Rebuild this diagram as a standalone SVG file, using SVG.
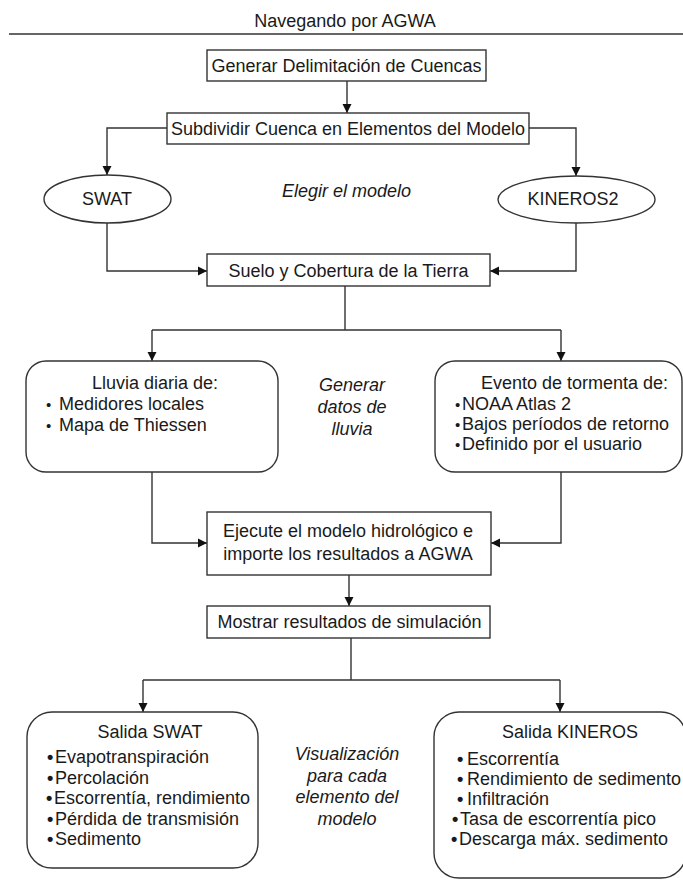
<svg xmlns="http://www.w3.org/2000/svg" width="683" height="880" viewBox="0 0 683 880">
<style>
text{font-family:"Liberation Sans",Arial,sans-serif;font-size:18px;fill:#1a1a1a}
.c{text-anchor:middle}
.i{font-style:italic}
.box{fill:#fff;stroke:#333;stroke-width:1.4}
.ln{fill:none;stroke:#333;stroke-width:1.4}
.sb{font-size:15px}
.bb{font-weight:bold}
</style>
<defs>
<marker id="ah" markerUnits="userSpaceOnUse" markerWidth="10" markerHeight="11" refX="9" refY="5.5" orient="auto">
<path d="M0,1 L9,5.5 L0,10 z" fill="#111"/>
</marker>
</defs>
<rect width="683" height="880" fill="#fff"/>
<text class="c" x="345" y="27">Navegando por AGWA</text>
<line x1="9" y1="34" x2="683" y2="34" stroke="#333" stroke-width="1.4"/>

<g id="connectors">
<path class="ln" d="M347,81 V113" marker-end="url(#ah)"/>
<path class="ln" d="M167,128 H107 V175" marker-end="url(#ah)"/>
<path class="ln" d="M529,128 H576 V176" marker-end="url(#ah)"/>
<path class="ln" d="M107,223 V271 H207" marker-end="url(#ah)"/>
<path class="ln" d="M576,223 V271 H490" marker-end="url(#ah)"/>
<path class="ln" d="M345,286 V330 M152,330 H561"/>
<path class="ln" d="M152,330 V361" marker-end="url(#ah)"/>
<path class="ln" d="M561,330 V361" marker-end="url(#ah)"/>
<path class="ln" d="M152,472 V543 H207" marker-end="url(#ah)"/>
<path class="ln" d="M561,472 V543 H491" marker-end="url(#ah)"/>
<path class="ln" d="M349,575 V606" marker-end="url(#ah)"/>
<path class="ln" d="M351,638 V680 M143,680 H560"/>
<path class="ln" d="M143,680 V712" marker-end="url(#ah)"/>
<path class="ln" d="M560,680 V712" marker-end="url(#ah)"/>
</g>

<g id="n-delimitacion">
<rect class="box" x="207" y="50" width="279" height="31"/>
<text class="c" x="346.5" y="72">Generar Delimitación de Cuencas</text>
</g>
<g id="n-subdividir">
<rect class="box" x="167" y="113" width="362" height="31"/>
<text class="c" x="348" y="135">Subdividir Cuenca en Elementos del Modelo</text>
</g>
<g id="n-swat">
<ellipse class="box" cx="107.5" cy="199" rx="63.5" ry="24"/>
<text class="c" x="107" y="205">SWAT</text>
</g>
<g id="n-kineros2">
<ellipse class="box" cx="576.5" cy="199.5" rx="78.5" ry="23.5"/>
<text class="c" x="573" y="205">KINEROS2</text>
</g>
<g id="n-elegir">
<text class="c i" x="346.5" y="197">Elegir el modelo</text>
</g>
<g id="n-suelo">
<rect class="box" x="207" y="254" width="283" height="32"/>
<text class="c" x="348.5" y="277">Suelo y Cobertura de la Tierra</text>
</g>
<g id="n-lluvia-diaria">
<rect class="box" x="26" y="361" width="252" height="111" rx="20"/>
<text class="c" x="155" y="389">Lluvia diaria de:</text>
<text y="410"><tspan class="sb" x="46">•</tspan><tspan x="59">Medidores locales</tspan></text>
<text y="431"><tspan class="sb" x="46">•</tspan><tspan x="59">Mapa de Thiessen</tspan></text>
</g>
<g id="n-generar-lluvia">
<text class="c i" x="352" y="391">Generar</text>
<text class="c i" x="352" y="413">datos de</text>
<text class="c i" x="352" y="435">lluvia</text>
</g>
<g id="n-tormenta">
<rect class="box" x="435" y="361" width="247" height="111" rx="20"/>
<text class="c" x="574.5" y="389">Evento de tormenta de:</text>
<text y="410"><tspan class="sb" x="455">•</tspan><tspan x="462">NOAA Atlas 2</tspan></text>
<text y="430"><tspan class="sb" x="455">•</tspan><tspan x="462">Bajos períodos de retorno</tspan></text>
<text y="450"><tspan class="sb" x="455">•</tspan><tspan x="462">Definido por el usuario</tspan></text>
</g>
<g id="n-ejecute">
<rect class="box" x="207" y="512" width="284" height="63"/>
<text class="c" x="348" y="537">Ejecute el modelo hidrológico e</text>
<text class="c" x="348" y="560">importe los resultados a AGWA</text>
</g>
<g id="n-mostrar">
<rect class="box" x="207" y="606" width="283" height="32"/>
<text class="c" x="349.5" y="628">Mostrar resultados de simulación</text>
</g>
<g id="n-salida-swat">
<rect class="box" x="27" y="712" width="231" height="156" rx="25"/>
<text class="c" x="150" y="738">Salida SWAT</text>
<text y="763"><tspan class="bb" x="47">•</tspan><tspan x="55">Evapotranspiración</tspan></text>
<text y="784"><tspan class="bb" x="47">•</tspan><tspan x="55">Percolación</tspan></text>
<text y="804"><tspan class="bb" x="46">•</tspan><tspan x="54">Escorrentía, rendimiento</tspan></text>
<text y="825"><tspan class="bb" x="47">•</tspan><tspan x="55">Pérdida de transmisión</tspan></text>
<text y="845"><tspan class="bb" x="47">•</tspan><tspan x="55">Sedimento</tspan></text>
</g>
<g id="n-visualizacion">
<text class="c i" x="347" y="760">Visualización</text>
<text class="c i" x="347" y="782">para cada</text>
<text class="c i" x="347" y="803">elemento del</text>
<text class="c i" x="347" y="825">modelo</text>
</g>
<g id="n-salida-kineros">
<rect class="box" x="434" y="712" width="252" height="166" rx="25"/>
<text class="c" x="570" y="738">Salida KINEROS</text>
<text y="765"><tspan class="bb" x="457">•</tspan><tspan x="467">Escorrentía</tspan></text>
<text y="785"><tspan class="bb" x="457">•</tspan><tspan x="467">Rendimiento de sedimento</tspan></text>
<text y="805"><tspan class="bb" x="457">•</tspan><tspan x="467">Infiltración</tspan></text>
<text y="825"><tspan class="bb" x="452">•</tspan><tspan x="460">Tasa de escorrentía pico</tspan></text>
<text y="845"><tspan class="bb" x="451">•</tspan><tspan x="459">Descarga máx. sedimento</tspan></text>
</g>
</svg>
